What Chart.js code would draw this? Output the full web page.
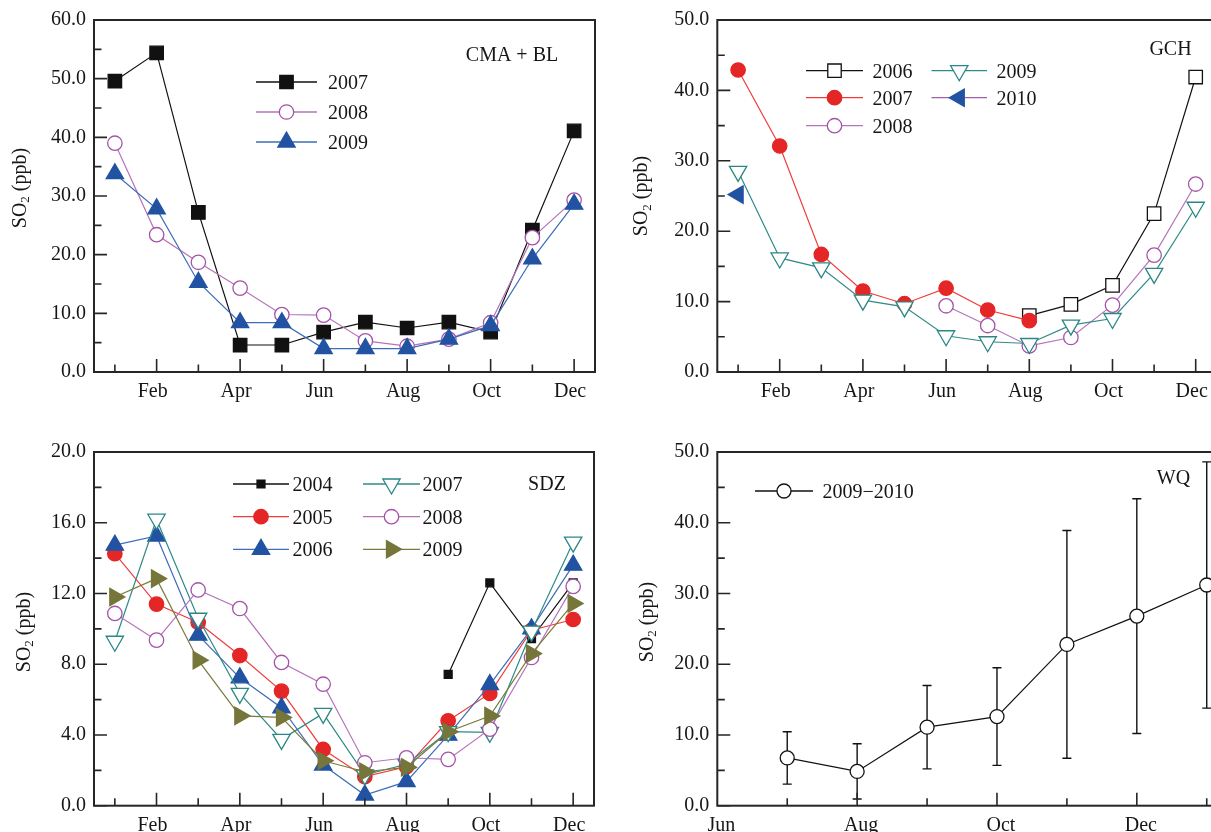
<!DOCTYPE html>
<html>
<head>
<meta charset="utf-8">
<title>SO2 monthly means</title>
<script src="https://cdn.jsdelivr.net/npm/chart.js@4.4.1/dist/chart.umd.min.js"></script>
<style>
  html, body { margin: 0; padding: 0; background: #fff; }
  body { width: 1211px; height: 832px; position: relative; overflow: hidden; }
  .panel { position: absolute; }
</style>
</head>
<body>
<div class="panel" style="left:0;top:0"><canvas id="cmaChart" width="610" height="412"></canvas></div>
<div class="panel" style="left:610px;top:0"><canvas id="gchChart" width="640" height="412"></canvas></div>
<div class="panel" style="left:0;top:432px"><canvas id="sdzChart" width="610" height="420"></canvas></div>
<div class="panel" style="left:610px;top:432px"><canvas id="wqChart" width="640" height="420"></canvas></div>
<script>
const months = ['Jan', 'Feb', 'Mar', 'Apr', 'May', 'Jun', 'Jul', 'Aug', 'Sep', 'Oct', 'Nov', 'Dec'];

// CMA + BL
const cma2007 = [49.6, 54.4, 27.2, 4.6, 4.6, 6.8, 8.5, 7.5, 8.5, 6.8, 24.2, 41.1];
const cma2008 = [39.0, 23.4, 18.7, 14.3, 9.8, 9.7, 5.3, 4.4, 5.6, 8.4, 22.9, 29.3];
const cma2009 = [33.8, 27.8, 15.3, 8.4, 8.4, 4.0, 4.0, 4.0, 5.6, 7.9, 19.3, 28.6];

// GCH
const gch2006 = [null, null, null, null, null, null, null, 8.0, 9.6, 12.3, 22.5, 41.9];
const gch2007 = [42.9, 32.1, 16.7, 11.5, 9.7, 11.9, 8.8, 7.3, null, null, null, null];
const gch2008 = [null, null, null, null, null, 9.4, 6.6, 3.7, 4.9, 9.5, 16.6, 26.7];
const gch2009 = [28.5, 16.2, 14.8, 10.2, 9.25, 5.15, 4.3, 4.05, 6.65, 7.6, 14.0, 23.4];
const gch2010 = [25.2, null, null, null, null, null, null, null, null, null, null, null];

// SDZ
const sdz2004 = [null, null, null, null, null, null, null, null, 7.42, 12.6, 9.45, 12.6];
const sdz2005 = [14.25, 11.4, 10.36, 8.49, 6.48, 3.18, 1.64, 2.2, 4.8, 6.35, 9.92, 10.53];
const sdz2006 = [14.73, 15.25, 9.64, 7.23, 5.54, 2.3, 0.6, 1.36, 3.99, 6.85, 10.0, 13.6];
const sdz2007 = [9.3, 16.2, 10.6, 6.35, 3.75, 5.22, 1.74, 2.34, 4.19, 4.15, 9.87, 14.9];
const sdz2008 = [10.87, 9.36, 12.2, 11.15, 8.1, 6.87, 2.43, 2.71, 2.62, 4.33, 8.38, 12.4];
const sdz2009 = [11.8, 12.84, 8.23, 5.08, 4.99, 2.54, 1.92, 2.17, 4.18, 5.07, 8.6, 11.43];

// WQ, Jul 2009 - Jan 2010 (month 13 = Jan of the next year)
const wqMonths = [7, 8, 9, 10, 11, 12, 13];
const wqMean = [6.75, 4.85, 11.1, 12.6, 22.8, 26.8, 31.2];
const wqSd = [3.7, 3.9, 5.9, 6.9, 16.1, 16.6, 17.4];

const SERIF = '"Liberation Serif", "Times New Roman", serif';
const INK = '#161616';
Chart.defaults.font.family = SERIF;
Chart.defaults.color = INK;

// marker looks
const BLACK_SQ = {line: '#111', edge: '#111', fill: '#111', shape: 'rect', r: 9.5};
const BLACK_OPEN_SQ = {line: '#111', edge: '#111', fill: '#fff', shape: 'rect', r: 9.5};
const BLACK_SMALL_SQ = {line: '#111', edge: '#111', fill: '#111', shape: 'rect', r: 5.6};
const RED_DOT = {line: '#f03c3c', edge: '#e52626', fill: '#e52626', shape: 'circle', r: 7.2};
const PURPLE_RING = {line: '#b574ba', edge: '#a552a9', fill: '#fff', shape: 'circle', r: 7.2};
const BLUE_TRI = {line: '#3e6cb8', edge: '#2253a3', fill: '#2253a3', shape: 'triangle', r: 10};
const TEAL_DOWN = {line: '#2e8b88', edge: '#2a8784', fill: '#fff', shape: 'triangle', r: 10, rot: 180};
const BLUE_LEFT = {line: '#a45cac', edge: '#2253a3', fill: '#2253a3', shape: 'triangle', r: 10, rot: 270};
const OLIVE_RIGHT = {line: '#7c7b3c', edge: '#76753a', fill: '#76753a', shape: 'triangle', r: 10, rot: 90};
const WHITE_RING = {line: '#111', edge: '#111', fill: '#fff', shape: 'circle', r: 7};

function drawMarker(ctx, look, x, y) {
  ctx.save();
  ctx.fillStyle = look.fill;
  ctx.strokeStyle = look.edge;
  ctx.lineWidth = 1.3;
  ctx.beginPath();
  if (look.shape === 'circle') {
    ctx.arc(x, y, look.r, 0, Math.PI * 2);
  } else if (look.shape === 'rect') {
    const s = look.r * Math.SQRT1_2;
    ctx.rect(x - s, y - s, 2 * s, 2 * s);
  } else {
    let a = (look.rot || 0) * Math.PI / 180;
    for (let k = 0; k < 3; k++) {
      const px = x + Math.sin(a) * look.r, py = y - Math.cos(a) * look.r;
      if (k) ctx.lineTo(px, py); else ctx.moveTo(px, py);
      a += Math.PI * 2 / 3;
    }
    ctx.closePath();
  }
  ctx.fill();
  ctx.stroke();
  ctx.restore();
}

function series(label, data, look, i) {
  return {
    label, data, look,
    order: -i,
    borderColor: look.line,
    borderWidth: 1.2,
    pointStyle: look.shape,
    pointRotation: look.rot || 0,
    pointRadius: look.r,
    pointHoverRadius: look.r,
    pointBackgroundColor: look.fill,
    pointBorderColor: look.edge,
    pointBorderWidth: 1.3,
    tension: 0,
    spanGaps: false
  };
}

// box around the plot, ticks pointing inward, minor ticks halfway
function frame() {
  return {
    id: 'frame',
    afterDatasetsDraw(chart) {
      const {ctx, chartArea: a, scales: {x, y}} = chart;
      ctx.save();
      ctx.strokeStyle = '#262626';
      ctx.lineWidth = 2;
      ctx.strokeRect(a.left, a.top, a.right - a.left, a.bottom - a.top);
      ctx.lineWidth = 1.6;
      ctx.beginPath();
      const yt = y.ticks;
      yt.forEach((t, i) => {
        const py = y.getPixelForValue(t.value);
        ctx.moveTo(a.left, py); ctx.lineTo(a.left + 13, py);
        if (i < yt.length - 1) {
          const pm = y.getPixelForValue((t.value + yt[i + 1].value) / 2);
          ctx.moveTo(a.left, pm); ctx.lineTo(a.left + 7.5, pm);
        }
      });
      x.ticks.forEach((t, i) => {
        const px = x.getPixelForTick(i);
        if (px <= a.left + 1) return;
        ctx.moveTo(px, a.bottom); ctx.lineTo(px, a.bottom - (t.label ? 13 : 7.5));
      });
      ctx.stroke();
      ctx.restore();
    }
  };
}

// rotated "SO2 (ppb)" with a real subscript
function so2Title(cx, cy) {
  return {
    id: 'so2Title',
    afterDraw(chart) {
      const ctx = chart.ctx;
      const big = '20px ' + SERIF, small = '13px ' + SERIF;
      ctx.save();
      ctx.translate(cx, cy);
      ctx.rotate(-Math.PI / 2);
      ctx.fillStyle = INK;
      ctx.font = big; const w1 = ctx.measureText('SO').width, w3 = ctx.measureText(' (ppb)').width;
      ctx.font = small; const w2 = ctx.measureText('2').width;
      let px = -(w1 + w2 + w3) / 2;
      ctx.font = big; ctx.fillText('SO', px, 6.5); px += w1;
      ctx.font = small; ctx.fillText('2', px, 10); px += w2;
      ctx.font = big; ctx.fillText(' (ppb)', px, 6.5);
      ctx.restore();
    }
  };
}

function siteName(text, cx, cy) {
  return {
    id: 'siteName',
    afterDraw(chart) {
      const ctx = chart.ctx;
      ctx.save();
      ctx.font = '20px ' + SERIF;
      ctx.fillStyle = INK;
      ctx.textAlign = 'center';
      ctx.fillText(text, cx, cy + 6.7);
      ctx.restore();
    }
  };
}

// legend inside the plot: columns of {from, to, text}, fixed row positions
function insetLegend(columns, rows) {
  return {
    id: 'insetLegend',
    afterDraw(chart) {
      const ctx = chart.ctx;
      chart.data.datasets.forEach((ds, i) => {
        const col = columns[Math.floor(i / rows.length)];
        const y = rows[i % rows.length];
        ctx.save();
        ctx.strokeStyle = ds.look.line;
        ctx.lineWidth = 1.3;
        ctx.beginPath();
        ctx.moveTo(col.from, y); ctx.lineTo(col.to, y);
        ctx.stroke();
        ctx.restore();
        drawMarker(ctx, ds.look, (col.from + col.to) / 2, y);
        ctx.save();
        ctx.font = '20px ' + SERIF;
        ctx.fillStyle = INK;
        ctx.fillText(ds.label, col.text, y + 6.8);
        ctx.restore();
      });
    }
  };
}

function monthAxis() {
  return {
    type: 'category',
    offset: true,
    grid: {display: false, drawTicks: false},
    border: {display: false},
    ticks: {
      autoSkip: false, maxRotation: 0, padding: 8, labelOffset: -4,
      font: {size: 20},
      callback: (v, i) => (i % 2 ? months[i] : '')
    },
    afterFit: s => { s.height = 40; }
  };
}

function so2Axis(max, step) {
  return {
    type: 'linear', min: 0, max,
    grid: {display: false, drawTicks: false},
    border: {display: false},
    ticks: {stepSize: step, padding: 8, font: {size: 20}, callback: v => v.toFixed(1)},
    afterFit: s => { s.width = 60; }
  };
}

function baseOptions(padding, x, y) {
  return {
    responsive: false,
    animation: false,
    events: [],
    layout: {padding},
    plugins: {legend: {display: false}, tooltip: {enabled: false}},
    scales: {x, y}
  };
}

new Chart(document.getElementById('cmaChart'), {
  type: 'line',
  data: {
    labels: months,
    datasets: [
      series('2007', cma2007, BLACK_SQ, 0),
      series('2008', cma2008, PURPLE_RING, 1),
      series('2009', cma2009, BLUE_TRI, 2)
    ]
  },
  options: baseOptions({left: 34, top: 19, right: 15, bottom: 0}, monthAxis(), so2Axis(60, 10)),
  plugins: [
    frame(), so2Title(19, 188), siteName('CMA + BL', 512, 54),
    insetLegend([{from: 256, to: 317, text: 328}], [82, 112, 142])
  ]
});

new Chart(document.getElementById('gchChart'), {
  type: 'line',
  data: {
    labels: months,
    datasets: [
      series('2006', gch2006, BLACK_OPEN_SQ, 0),
      series('2007', gch2007, RED_DOT, 1),
      series('2008', gch2008, PURPLE_RING, 2),
      series('2009', gch2009, TEAL_DOWN, 3),
      series('2010', gch2010, BLUE_LEFT, 4)
    ]
  },
  options: baseOptions({left: 47.3, top: 19, right: 33.5, bottom: 0}, monthAxis(), so2Axis(50, 10)),
  plugins: [
    frame(), so2Title(30.5, 196), siteName('GCH', 560.5, 48),
    insetLegend([{from: 196, to: 253, text: 262.5}, {from: 321.5, to: 377, text: 386.5}], [70.7, 97.7, 125.7])
  ]
});

new Chart(document.getElementById('sdzChart'), {
  type: 'line',
  data: {
    labels: months,
    datasets: [
      series('2004', sdz2004, BLACK_SMALL_SQ, 0),
      series('2005', sdz2005, RED_DOT, 1),
      series('2006', sdz2006, BLUE_TRI, 2),
      series('2007', sdz2007, TEAL_DOWN, 3),
      series('2008', sdz2008, PURPLE_RING, 4),
      series('2009', sdz2009, OLIVE_RIGHT, 5)
    ]
  },
  options: baseOptions({left: 34, top: 19.7, right: 16, bottom: 6.3}, monthAxis(), so2Axis(20, 4)),
  plugins: [
    frame(), so2Title(23, 200), siteName('SDZ', 547, 51),
    insetLegend([{from: 233, to: 289, text: 292.5}, {from: 363, to: 420, text: 422.5}], [52, 84.7, 117.3])
  ]
});

// monthly mean with one standard deviation
const errorBars = {
  id: 'errorBars',
  beforeDatasetsDraw(chart) {
    const {ctx, scales: {x, y}} = chart;
    ctx.save();
    ctx.strokeStyle = '#111';
    ctx.lineWidth = 1.4;
    ctx.beginPath();
    wqMonths.forEach((m, i) => {
      const px = x.getPixelForValue(m);
      const top = y.getPixelForValue(wqMean[i] + wqSd[i]);
      const bot = y.getPixelForValue(wqMean[i] - wqSd[i]);
      ctx.moveTo(px, top); ctx.lineTo(px, bot);
      ctx.moveTo(px - 4.5, top); ctx.lineTo(px + 4.5, top);
      ctx.moveTo(px - 4.5, bot); ctx.lineTo(px + 4.5, bot);
    });
    ctx.stroke();
    ctx.restore();
  }
};

const wqX = {
  type: 'linear', min: 6, max: 13.5,
  grid: {display: false, drawTicks: false},
  border: {display: false},
  afterBuildTicks: s => { s.ticks = [6, 7, 8, 9, 10, 11, 12, 13].map(v => ({value: v})); },
  ticks: {
    autoSkip: false, maxRotation: 0, padding: 8, labelOffset: 4, font: {size: 20},
    callback: v => (v % 2 === 0 ? months[(v - 1) % 12] : '')
  },
  afterFit: s => { s.height = 40; }
};

new Chart(document.getElementById('wqChart'), {
  type: 'line',
  data: {
    datasets: [
      series('2009\u22122010', wqMonths.map((m, i) => ({x: m, y: wqMean[i]})), WHITE_RING, 0)
    ]
  },
  options: baseOptions({left: 47.3, top: 19.7, right: 5, bottom: 6.3}, wqX, so2Axis(50, 10)),
  plugins: [
    errorBars, frame(), so2Title(36, 190), siteName('WQ', 563.5, 45.7),
    insetLegend([{from: 145, to: 203, text: 212.5}], [59])
  ]
});
</script>
</body>
</html>
